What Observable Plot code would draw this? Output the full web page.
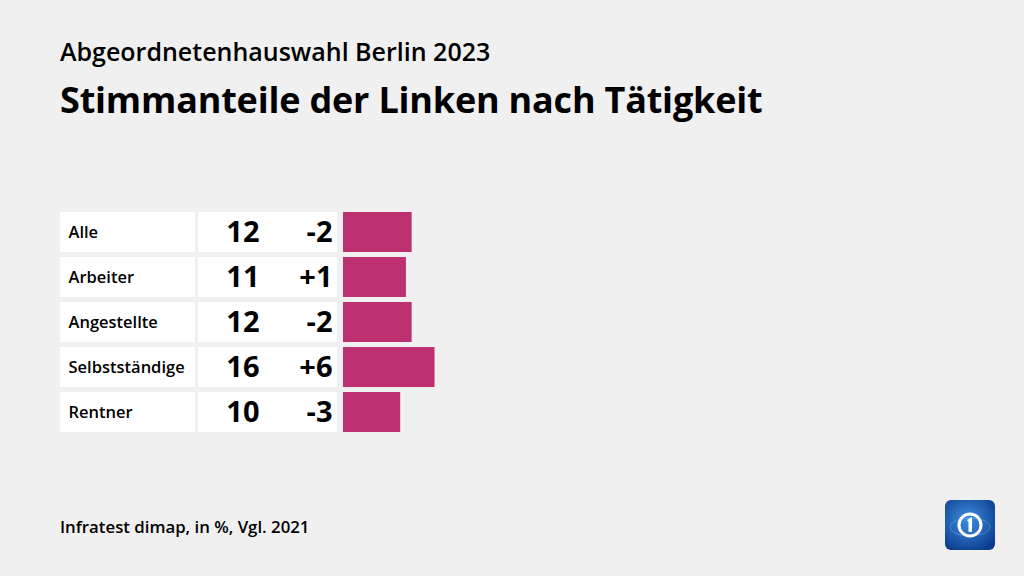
<!DOCTYPE html>
<html>
<head>
<meta charset="utf-8">
<script src="https://cdn.jsdelivr.net/npm/d3@7"></script>
<script src="https://cdn.jsdelivr.net/npm/@observablehq/plot@0.6"></script>
<style>
  html, body { margin: 0; padding: 0; background: #f0f0f0; width: 1024px; height: 576px; overflow: hidden; }
  body { position: relative; font-family: "Open Sans", Lato, sans-serif; color: #000; }
  .t { position: absolute; left: 60px; white-space: nowrap; line-height: 1; }
  #sub { top: 39px; font-size: 25px; font-weight: 600; }
  #title { top: 82px; font-size: 36px; font-weight: 700; letter-spacing: -0.2px; }
  #cap { top: 519px; font-size: 16.8px; font-weight: 600; }
  #chart { position: absolute; left: 0; top: 0; }
  #logo { position: absolute; left: 945px; top: 500px; }
</style>
</head>
<body>
<div id="chart"></div>
<div class="t" id="sub">Abgeordnetenhauswahl Berlin 2023</div>
<div class="t" id="title">Stimmanteile der Linken nach Tätigkeit</div>
<div class="t" id="cap">Infratest dimap, in %, Vgl. 2021</div>
<svg id="logo" width="50" height="50" viewBox="0 0 50 50">
  <defs>
    <radialGradient id="g" cx="0.45" cy="0.4" r="0.7">
      <stop offset="0" stop-color="#3f8fe0"/>
      <stop offset="1" stop-color="#0a3a8c"/>
    </radialGradient>
  </defs>
  <rect x="0" y="0" width="50" height="50" rx="6" fill="url(#g)"/>
  <ellipse cx="25" cy="27" rx="20" ry="9" fill="none" stroke="#6fb0f0" stroke-opacity="0.5" stroke-width="1"/>
  <circle cx="25" cy="25" r="11" fill="none" stroke="#fff" stroke-width="3"/>
  <path d="M22 20 L27 17 L27 32 L23.5 32 L23.5 22 Z" fill="#fff"/>
</svg>
<script>
const categories = ["Alle", "Arbeiter", "Angestellte", "Selbstständige", "Rentner"];
const shares = [12, 11, 12, 16, 10];
const changes = ["-2", "+1", "-2", "+6", "-3"];

const data = categories.map((c, i) => ({cat: c, share: shares[i], change: changes[i]}));

// layout: pixel -> x-scale units (bars start at 343px, 5.72px per percentage point)
const x0 = 343, pxPerUnit = 5.72;
const u = px => (px - x0) / pxPerUnit;

const chart = Plot.plot({
  width: 1024,
  height: 576,
  marginLeft: x0,
  marginRight: 1024 - x0 - 100 * pxPerUnit,
  marginTop: 212,
  marginBottom: 144,
  style: {background: "transparent", fontFamily: "'Open Sans', Lato, sans-serif"},
  x: {domain: [0, 100], axis: null},
  y: {domain: categories, axis: null, paddingInner: 5 / 45, paddingOuter: 0, round: false},
  marks: [
    Plot.rectX(data, {y: "cat", x1: () => u(60), x2: () => u(195), fill: "#fff"}),
    Plot.rectX(data, {y: "cat", x1: () => u(198), x2: () => u(337), fill: "#fff"}),
    Plot.barX(data, {y: "cat", x: "share", fill: "#be3171"}),
    Plot.text(data, {y: "cat", x: () => u(68), text: "cat", textAnchor: "start", fontSize: 16.5, fontWeight: 600, fill: "#000"}),
    Plot.text(data, {y: "cat", x: () => u(259), text: d => String(d.share), textAnchor: "end", fontSize: 29, fontWeight: 700, fill: "#000"}),
    Plot.text(data, {y: "cat", x: () => u(332), text: "change", textAnchor: "end", fontSize: 29, fontWeight: 700, fill: "#000"})
  ]
});
document.getElementById("chart").appendChild(chart);
</script>
</body>
</html>
